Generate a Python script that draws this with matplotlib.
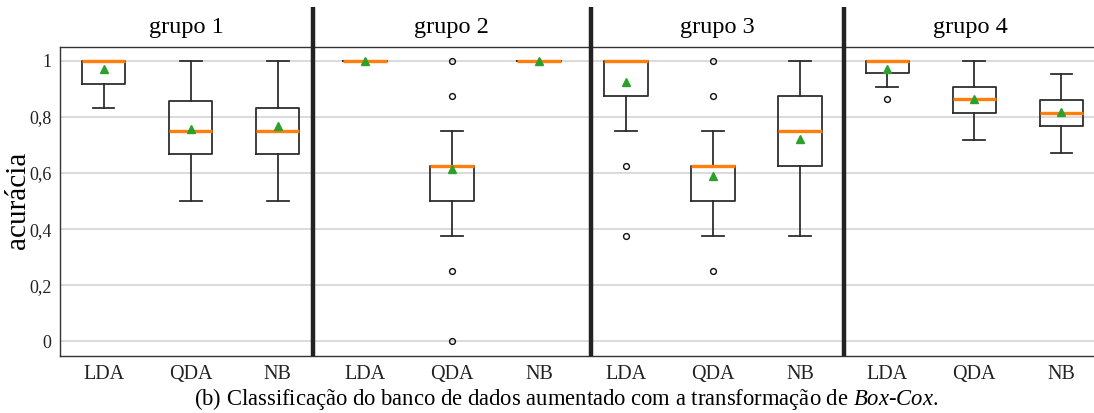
import matplotlib
matplotlib.use("Agg")
import matplotlib.pyplot as plt
import matplotlib.transforms as mtransforms

plt.rcParams['font.family'] = ['Liberation Serif', 'DejaVu Serif']
plt.rcParams['mathtext.fontset'] = 'custom'
plt.rcParams['mathtext.rm'] = 'Liberation Serif'
plt.rcParams['mathtext.it'] = 'Liberation Serif:italic'

groups = ["grupo 1", "grupo 2", "grupo 3", "grupo 4"]
methods = ["LDA", "QDA", "NB"]

# per box (group-major order): LDA, QDA, NB for each group
medians = [1.0, 0.75, 0.75,
           1.0, 0.625, 1.0,
           1.0, 0.625, 0.75,
           1.0, 0.862, 0.813]
q1 = [0.917, 0.667, 0.667,
      1.0, 0.5, 1.0,
      0.875, 0.5, 0.625,
      0.955, 0.814, 0.767]
q3 = [1.0, 0.857, 0.833,
      1.0, 0.625, 1.0,
      1.0, 0.625, 0.875,
      1.0, 0.907, 0.861]
whislo = [0.833, 0.5, 0.5,
          1.0, 0.375, 1.0,
          0.75, 0.375, 0.375,
          0.907, 0.718, 0.670]
whishi = [1.0, 1.0, 1.0,
          1.0, 0.75, 1.0,
          1.0, 0.75, 1.0,
          1.0, 1.0, 0.954]
means = [0.970, 0.757, 0.766,
         1.0, 0.614, 1.0,
         0.925, 0.590, 0.722,
         0.971, 0.864, 0.816]
fliers = [[], [], [],
          [], [1.0, 0.875, 0.25, 0.0], [],
          [0.625, 0.375], [1.0, 0.875, 0.25], [],
          [0.862], [], []]
yticks = [0, 0.2, 0.4, 0.6, 0.8, 1.0]
ytick_labels = ["0", "0,2", "0,4", "0,6", "0,8", "1"]
separators = [2.4, 5.6, 8.5]

W, H = 1094, 413
fig = plt.figure(figsize=(W / 100, H / 100), dpi=100)
ax_left, ax_right = 60, 1105
ax_top, ax_bottom = 46.7, 355.5
ax = fig.add_axes([ax_left / W, 1 - ax_bottom / H, (ax_right - ax_left) / W, (ax_bottom - ax_top) / H])

stats = []
for i in range(len(medians)):
    stats.append(dict(med=medians[i], q1=q1[i], q3=q3[i], whislo=whislo[i],
                      whishi=whishi[i], mean=means[i], fliers=fliers[i]))

edge = '#2e2e2e'
ax.bxp(stats, positions=list(range(len(stats))), widths=0.5, showmeans=True,
       patch_artist=False,
       boxprops=dict(color=edge, linewidth=1.3),
       whiskerprops=dict(color=edge, linewidth=1.3),
       capprops=dict(color=edge, linewidth=1.3),
       medianprops=dict(color='#ff7f0e', linewidth=2.4),
       meanprops=dict(marker='^', markerfacecolor='#2ca02c', markeredgecolor='#2ca02c', markersize=5.5),
       flierprops=dict(marker='o', markerfacecolor='none', markeredgecolor='#111111', markersize=4.2, markeredgewidth=1.0))

ax.set_xlim(-0.5, 11.5)
ax.set_ylim(-0.05, 1.05)
ax.set_yticks(yticks)
ax.set_yticklabels(ytick_labels, fontsize=13)
ax.set_xticks(list(range(12)))
ax.set_xticklabels(methods * 4, fontsize=14.5)
ax.tick_params(axis='both', length=0, colors='#222222')
ax.tick_params(axis='y', pad=6)
ax.tick_params(axis='x', pad=7)
ax.yaxis.grid(True, color='#d4d4d4', linewidth=1.2)
ax.set_axisbelow(True)
for s in ['left', 'top', 'bottom']:
    ax.spines[s].set_color('#333333')
    ax.spines[s].set_linewidth(1.0)
ax.spines['right'].set_visible(False)

ax.set_ylabel("acurácia", fontsize=21)
ax.yaxis.set_label_coords(-29 / (ax_right - ax_left),
                          0.5 + ((ax_top + ax_bottom) / 2 - 200) / (ax_bottom - ax_top))

trans = mtransforms.blended_transform_factory(ax.transData, ax.transAxes)
top_frac = (ax_bottom - 7) / (ax_bottom - ax_top)
for s in separators:
    ax.plot([s, s], [0, top_frac], transform=trans, color='#222222', linewidth=3.2,
            clip_on=False, solid_capstyle='butt', zorder=5)

bounds = [-0.5] + separators + [11.4]
title_y = (ax_bottom - 27) / (ax_bottom - ax_top)
for g in range(4):
    cx = (bounds[g] + bounds[g + 1]) / 2
    ax.text(cx, title_y, groups[g], transform=trans, ha='center', va='center', fontsize=17.5)

fig.text(566 / W, 1 - 399 / H,
         r"(b) Classificação do banco de dados aumentado com a transformação de $\mathit{Box}$-$\mathit{Cox}$.",
         ha='center', va='center', fontsize=16.3)

fig.savefig("out.png", dpi=100)
